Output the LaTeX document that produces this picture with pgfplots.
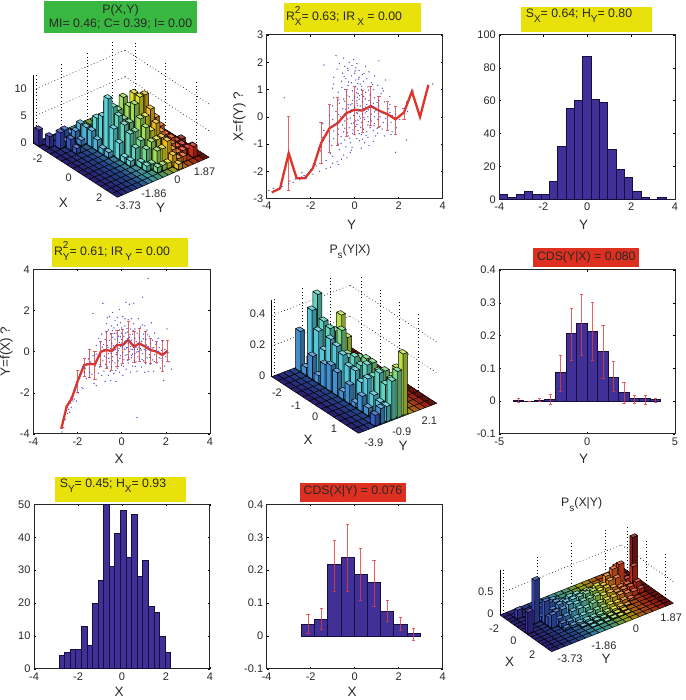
\documentclass[border=0pt]{standalone}
\usepackage{fontspec}
\setmainfont{Liberation Sans}
\usepackage{pgfplots}
\usepackage{pgfplotstable}
\pgfplotsset{compat=1.18}

\definecolor{barfill}{RGB}{64,48,152}
\definecolor{baredge}{RGB}{22,14,60}
\definecolor{redline}{RGB}{222,52,40}
\definecolor{errred}{RGB}{226,60,60}
\definecolor{dotblue}{RGB}{80,80,205}
\definecolor{ttlyel}{RGB}{232,226,10}
\definecolor{ttlgrn}{RGB}{56,184,64}
\definecolor{ttlred}{RGB}{222,48,32}
\definecolor{txt}{RGB}{40,40,40}

\newcommand\tfont{\fontsize{12.3}{14}\selectfont}
\newcommand\lfont{\fontsize{13.5}{15}\selectfont}
\newcommand\nfont{\fontsize{11}{12}\selectfont}
\newcommand\subf{\fontsize{10}{10}\selectfont}
\newcommand\subx[1]{\raisebox{-.4em}{\subf #1}}
\newcommand\supsub[2]{\rlap{\raisebox{.5em}{\subf #1}}\raisebox{-.4em}{\subf #2}}

\pgfplotsset{
  colormap={barjet}{
    rgb255(0cm)=(99,87,179); rgb255(24.75cm)=(93,131,207); rgb255(39.6cm)=(123,219,227);
    rgb255(49.5cm)=(131,219,187); rgb255(57.42cm)=(171,227,131); rgb255(65.34cm)=(239,231,75);
    rgb255(79.2cm)=(243,139,75); rgb255(91.08cm)=(231,91,75); rgb255(99cm)=(163,71,67);
    rgb255(100cm)=(60,45,160); rgb255(124.75cm)=(52,100,195); rgb255(139.6cm)=(90,210,220);
    rgb255(149.5cm)=(100,210,170); rgb255(157.42cm)=(150,220,100); rgb255(165.34cm)=(235,225,30);
    rgb255(179.2cm)=(240,110,30); rgb255(191.08cm)=(225,50,30); rgb255(199cm)=(140,25,20);
    rgb255(200cm)=(42,32,112); rgb255(224.75cm)=(36,70,137); rgb255(239.6cm)=(63,147,154);
    rgb255(249.5cm)=(70,147,119); rgb255(257.42cm)=(105,154,70); rgb255(265.34cm)=(165,158,21);
    rgb255(279.2cm)=(168,77,21); rgb255(291.08cm)=(158,35,21); rgb255(299cm)=(98,18,14)
  },
  flat2d/.style={
    scale only axis, axis line style={line width=1pt,draw=black!85},
    tick align=inside, major tick length=2pt, tick style={black,line width=.5pt},
    ticklabel style={font=\nfont,text=txt},
    /pgf/number format/assume math mode=true,
    /pgf/number format/fixed,
    clip=true, anchor=north west,
  },
  hist/.style={ybar interval=1, fill=barfill, draw=baredge, line width=1pt},
  errs/.style={draw=none, forget plot,
    error bars/.cd, y dir=both, y explicit,
    error bar style={errred, line width=.9pt, opacity=.8},
    error mark options={rotate=90, errred, mark size=1.6pt, line width=.8pt}},
  box3d/.style={
    anchor=origin, clip=false, grid=major,
    grid style={black, line width=.6pt, dash pattern=on .7pt off 2.6pt},
    axis line style={draw=none},
    major tick length=0pt,
    ticklabel style={font=\nfont,text=txt},
    zticklabel style={xshift=-3pt},
    /pgf/number format/assume math mode=true,
    /pgf/number format/fixed,
    colormap name=barjet, point meta min=0, point meta max=299,
  },
  bar3d/.style={patch, patch type=rectangle, shader=faceted, faceted color=black,
    line width=.45pt, z buffer=none, point meta=explicit},
}

% #1 xmin, #2 cell in x, #3 ymin, #4 cell in y, #5 number of columns, #6 heights by row
\newcommand\buildbars[6]{%
  \gdef\barstr{}%
  \pgfmathtruncatemacro\lastc{#5-1}%
  \pgfmathtruncatemacro\nextc{#5-2}%
  \foreach \row [count=\r from 0] in {#6} {%
    \pgfmathsetmacro\xa{#1+#2*(\r+.12)}\pgfmathsetmacro\xb{#1+#2*(\r+.88)}%
    \pgfmathsetmacro\xA{#1+#2*\r}\pgfmathsetmacro\xB{#1+#2*(\r+1)}%
    \foreach \c in {\lastc,\nextc,...,0} {%
      \pgfmathsetmacro\h{{\row}[\c]}%
      \pgfmathsetmacro\ya{#3+#4*(\c+.12)}\pgfmathsetmacro\yb{#3+#4*(\c+.88)}%
      \pgfmathsetmacro\yA{#3+#4*\c}\pgfmathsetmacro\yB{#3+#4*(\c+1)}%
      \pgfmathsetmacro\mt{99*\c/\lastc}%
      \pgfmathsetmacro\ma{100+\mt}\pgfmathsetmacro\mb{200+\mt}%
      \xdef\barstr{\barstr (\xA,\yA,0)[\mb](\xB,\yA,0)[\mb](\xB,\yB,0)[\mb](\xA,\yB,0)[\mb] }%
      \pgfmathparse{\h>0?1:0}%
      \ifdim\pgfmathresult pt>0.5pt
        \xdef\barstr{\barstr (\xa,\ya,0)[\ma](\xb,\ya,0)[\ma](\xb,\ya,\h)[\ma](\xa,\ya,\h)[\ma]
          (\xb,\ya,0)[\mb](\xb,\yb,0)[\mb](\xb,\yb,\h)[\mb](\xb,\ya,\h)[\mb]
          (\xa,\ya,\h)[\mt](\xb,\ya,\h)[\mt](\xb,\yb,\h)[\mt](\xa,\yb,\h)[\mt] }%
      \fi
    }%
  }%
}
\newcommand\plotbarsfrom[1]{\addplot3[bar3d] coordinates {#1};}
\newcommand\plotbars{\expandafter\plotbarsfrom\expandafter{\barstr}}

\pgfplotstableread[row sep=\\]{
X Y\\
-2.7 -3.9\\ -2.62 -3.7\\ -2.55 -3.3\\ -2.45 -3.0\\ -2.4 -2.8\\ -2.35 -2.95\\ -2.3 -2.5\\ -2.28 -2.7\\
-2.25 -2.2\\ -2.2 -2.4\\ -2.15 -2.3\\ -2.1 -1.9\\ -2.05 -2.4\\ -2.0 -1.6\\ -1.95 -2.0\\ -1.9 -1.3\\
-1.85 -1.1\\ -1.8 -1.75\\ -1.75 -1.8\\ -1.7 -1.0\\ -1.65 -0.8\\ -1.75 -0.75\\ -1.6 -1.3\\ -1.55 -0.6\\
-1.5 -0.35\\ -1.45 -1.0\\ -1.4 -0.5\\ -1.35 -1.1\\ -1.3 1.85\\ -1.3 -0.2\\ -1.25 -1.55\\ -1.2 -0.7\\
-1.15 -1.65\\ -1.15 0.3\\ -1.1 -0.4\\ -1.05 -1.05\\ -1.05 0.65\\ -1.0 -0.75\\ -0.95 -0.2\\ -0.95 0.45\\
-0.9 -1.15\\ -0.9 0.85\\ -0.85 2.35\\ -0.85 -0.45\\ -0.8 -0.95\\ -0.8 0.1\\ -0.75 -1.45\\ -0.75 0.6\\
-0.7 0.95\\ -0.7 -0.3\\ -0.7 1.35\\ -0.65 -0.75\\ -0.65 0.3\\ -0.65 1.65\\ -0.6 -0.1\\ -0.6 1.05\\
-0.6 -1.15\\ -0.55 0.55\\ -0.55 1.7\\ -0.55 -0.5\\ -0.5 0.15\\ -0.5 0.85\\ -0.5 -1.4\\ -0.45 -0.75\\
-0.45 1.25\\ -0.45 0.4\\ -0.4 -0.25\\ -0.4 1.9\\ -0.4 0.7\\ -0.35 -1.05\\ -0.35 0.05\\ -0.35 1.15\\
-0.3 -0.55\\ -0.3 0.6\\ -0.3 1.5\\ -0.25 -1.45\\ -0.25 -0.15\\ -0.25 0.9\\ -0.2 0.3\\ -0.2 -0.8\\
-0.2 1.3\\ -0.2 1.65\\ -0.15 0.05\\ -0.15 0.75\\ -0.15 -0.45\\ -0.1 1.05\\ -0.1 0.45\\ -0.1 -1.0\\
-0.1 2.05\\ -0.05 -0.2\\ -0.05 0.25\\ -0.05 1.4\\ 0 0.6\\ 0 -0.65\\ 0 1.15\\ 0 0.9\\
0.05 -0.05\\ 0.05 1.7\\ 0.05 -1.15\\ 0.1 0.35\\ 0.1 0.75\\ 0.1 -0.4\\ 0.15 1.25\\ 0.15 0.1\\
0.15 1.6\\ 0.2 2.4\\ 0.2 -0.85\\ 0.2 0.55\\ 0.25 0.2\\ 0.25 0.95\\ 0.25 -0.15\\ 0.3 1.55\\
0.3 0.4\\ 0.3 -0.55\\ 0.35 2.3\\ 0.35 0.7\\ 0.35 0.0\\ 0.4 1.1\\ 0.4 -1.0\\ 0.4 0.25\\
0.45 0.55\\ 0.45 1.6\\ 0.45 -0.3\\ 0.5 0.1\\ 0.5 0.85\\ 0.5 -0.7\\ 0.55 2.35\\ 0.55 0.35\\
0.55 1.35\\ 0.6 -0.1\\ 0.6 0.65\\ 0.6 1.1\\ 0.65 -0.5\\ 0.65 0.2\\ 0.7 -3.2\\ 0.7 0.9\\
0.7 -0.95\\ 0.75 1.6\\ 0.75 0.4\\ 0.75 0.0\\ 0.8 0.7\\ 0.8 -0.35\\ 0.85 1.2\\ 0.85 0.15\\
0.9 -0.75\\ 0.9 0.5\\ 0.95 2.65\\ 0.95 1.3\\ 0.95 -0.1\\ 1.0 0.85\\ 1.0 0.3\\ 1.0 -0.45\\
1.05 1.25\\ 1.05 -1.0\\ 1.1 0.05\\ 1.1 0.6\\ 1.15 1.05\\ 1.15 -0.3\\ 1.2 3.55\\ 1.2 0.25\\
1.2 -0.95\\ 1.25 0.75\\ 1.25 -0.15\\ 1.3 0.4\\ 1.3 -0.6\\ 1.35 1.4\\ 1.35 0.05\\ 1.4 0.55\\
1.4 -0.4\\ 1.45 -0.95\\ 1.45 0.2\\ 1.5 0.9\\ 1.5 -0.15\\ 1.55 0.35\\ 1.6 -0.55\\ 1.6 0.0\\
1.65 0.65\\ 1.7 -0.3\\ 1.7 0.2\\ 1.75 -0.8\\ 1.8 0.05\\ 1.85 -0.45\\ 1.85 0.5\\ 1.9 -1.4\\
1.95 0.1\\ 1.95 -0.7\\ 2.0 -0.25\\ 2.05 1.1\\ 2.1 -0.05\\ 2.15 -0.5\\ 2.25 -0.85\\ -0.28 0.1\\
0.12 0.12\\ 0.22 0.18\\ 0.42 0.12\\ 0.58 0.1\\ 0.72 0.12\\ 0.88 0.08\\ -0.12 0.15\\ 1.02 0.12\\
1.22 0.14\\ 0.32 -0.28\\ -0.42 -0.45\\ -0.62 0.2\\ -0.02 0.42\\ 0.18 0.9\\ 0.62 -0.72\\ -0.82 0.35\\
-1.12 -0.12\\ -0.98 -0.62\\ -0.88 0.22\\ -0.78 -0.22\\ -0.68 0.52\\ -0.58 -0.32\\ -0.48 -0.08\\ -0.38 0.28\\
-0.33 0.88\\ -0.27 -0.92\\ -0.18 0.62\\ -0.08 -0.32\\ 0.02 0.22\\ 0.08 -0.72\\ 0.14 0.48\\ 0.24 1.12\\
0.28 -0.42\\ 0.38 0.82\\ 0.44 -0.18\\ 0.52 1.02\\ 0.57 -0.45\\ 0.66 0.48\\ 0.74 -0.25\\ 0.82 0.32\\
0.92 -0.38\\ 0.98 0.62\\ 1.08 -0.58\\ 1.12 0.32\\ 1.18 0.82\\ 1.28 -0.28\\ 1.38 0.18\\ 1.48 -0.48\\
1.58 0.42\\ 1.68 0.02\\ 1.78 -0.32\\ 1.88 -0.12\\ -0.52 -0.95\\ -0.72 -0.62\\ -1.22 -0.15\\ -0.42 1.02\\
0.48 -0.12\\ 0.68 -0.02\\ 0.26 0.62\\ -0.06 0.72\\ -0.22 -0.05\\ 0.16 -0.18\\ 0.36 0.48\\ 0.78 0.22\\
}\pts
\pgfplotstableread[row sep=\\]{
x y\\ -3.77 -2.77\\ -3.39 -2.62\\ -3.0 -1.33\\ -2.64 -2.25\\ -2.26 -2.25\\ -1.9 -1.88\\ -1.53 -0.97\\
-1.15 -0.42\\ -0.77 -0.23\\ -0.39 0.13\\ -0.02 0.26\\ 0.35 0.23\\ 0.73 0.40\\ 1.1 0.23\\ 1.48 0.10\\
1.86 -0.09\\ 2.24 0.16\\ 2.6 0.93\\ 2.97 0.0\\ 3.35 1.17\\
}\lineB
\pgfplotstableread[row sep=\\]{
x y lo hi\\ -3.0 -1.33 -2.71 0.0\\ -1.53 -0.97 -1.7 -0.2\\ -1.15 -0.42 -1.3 0.44\\ -0.77 -0.23 -1.05 0.71\\
-0.39 0.13 -0.72 0.99\\ -0.02 0.26 -0.64 1.11\\ 0.35 0.23 -0.56 0.97\\ 0.73 0.40 -0.32 1.12\\ 1.1 0.23 -0.38 0.75\\
1.48 0.10 -0.48 0.56\\ 1.86 -0.09 -0.66 0.38\\ 2.24 0.16 -0.09 0.32\\
}\errB
\pgfplotstableread[row sep=\\]{
x y lo hi\\ -2.72 -3.69 -3.72 -3.66\\ -2.49 -2.67 -2.7 -2.64\\ -2.26 -2.27 -2.3 -2.24\\ -2.0 -1.46 -2.0 -0.9\\
-1.7 -0.65 -1.2 -0.32\\ -1.46 -0.6 -1.26 0.11\\ -1.21 -0.62 -1.34 0.03\\ -0.94 0.0 -0.73 0.49\\ -0.69 0.08 -0.81 0.97\\
-0.45 0.03 -0.89 0.89\\ -0.21 0.32 -0.73 1.05\\ 0.05 0.32 -0.57 1.08\\ 0.3 0.57 -0.4 1.46\\ 0.56 0.24 -0.53 1.0\\
0.8 0.4 -0.49 1.13\\ 1.07 0.24 -0.53 1.0\\ 1.31 0.08 -0.57 0.65\\ 1.58 0.0 -0.52 0.49\\ 1.84 -0.16 -0.94 0.57\\
2.08 0.03 -0.49 0.57\\
}\errD
\pgfplotstableread[row sep=\\]{
x y\\ -4 3\\ -3.62 1\\ -3.24 3\\ -2.86 5\\ -2.48 3\\ -2.1 3\\ -1.72 11\\ -1.34 32\\ -0.96 55\\ -0.58 60\\ -0.2 87\\
0.18 61\\ 0.56 59\\ 0.94 30\\ 1.32 18\\ 1.7 13\\ 2.08 5\\ 2.46 1\\ 2.84 0\\ 3.22 1\\ 3.6 1\\
}\histY
\pgfplotstableread[row sep=\\]{
x y\\ -2.86 4\\ -2.606 5\\ -2.352 6\\ -2.098 6\\ -1.844 13\\ -1.59 7\\ -1.336 20\\ -1.082 27\\ -0.828 50\\ -0.574 31\\
-0.32 41\\ -0.066 48\\ 0.188 34\\ 0.442 47\\ 0.696 28\\ 0.95 33\\ 1.204 19\\ 1.458 17\\ 1.712 10\\ 1.966 5\\ 2.22 5\\
}\histX
\pgfplotstableread[row sep=\\]{
x y\\ -4.2 0.003\\ -3.6 0\\ -3.0 0.003\\ -2.4 0.006\\ -1.8 0.087\\ -1.2 0.205\\ -0.6 0.236\\ 0 0.213\\ 0.6 0.153\\
1.2 0.073\\ 1.8 0.026\\ 2.4 0.008\\ 3.0 0.008\\ 3.6 0.004\\ 4.2 0.004\\
}\cdsY
\pgfplotstableread[row sep=\\]{
x y lo hi\\ -3.9 0.003 -0.003 0.01\\ -3.3 0 0 0\\ -2.7 0.003 -0.002 0.01\\ -2.1 0.006 -0.01 0.02\\ -1.5 0.087 0.03 0.14\\
-0.9 0.205 0.123 0.283\\ -0.3 0.236 0.14 0.327\\ 0.3 0.213 0.123 0.301\\ 0.9 0.153 0.07 0.231\\ 1.5 0.073 0.03 0.12\\
2.1 0.026 -0.006 0.058\\ 2.7 0.008 -0.006 0.017\\ 3.3 0.008 -0.009 0.019\\ 3.9 0.004 -0.004 0.01\\
}\cdsYe
\pgfplotstableread[row sep=\\]{
x y\\ -2.42 0.036\\ -1.82 0.051\\ -1.22 0.216\\ -0.62 0.237\\ -0.02 0.187\\ 0.58 0.162\\ 1.18 0.076\\ 1.78 0.036\\
2.38 0.008\\ 2.98 0.008\\
}\cdsX
\pgfplotstableread[row sep=\\]{
x y lo hi\\ -2.12 0.036 0.007 0.067\\ -1.52 0.051 0.021 0.084\\ -0.92 0.216 0.137 0.291\\ -0.32 0.237 0.137 0.339\\
0.28 0.187 0.108 0.266\\ 0.88 0.162 0.09 0.231\\ 1.48 0.076 0.044 0.108\\ 2.08 0.036 0.017 0.058\\ 2.68 0.008 -0.013 0.023\\
}\cdsXe

\begin{document}
\begin{tikzpicture}[x=1pt,y=1pt]
\useasboundingbox (0,0) rectangle (685,700);

% ---------- panel 1
\begin{axis}[box3d, at={(127.6pt,553.9pt)},
  x={(15.3pt,-9.84pt)}, y={(13.67pt,5.96pt)}, z={(0pt,5.33pt)},
  xmin=-2.66, xmax=2.83, ymin=-3.92, ymax=2.79, zmin=0, zmax=12.8,
  yticklabel style={xshift=2pt,yshift=2.5pt},
  xtick={-2,0,2}, ytick={-3.73,-1.86,0,1.87}, yticklabels={-3.73,-1.86,0,1.87}, ztick={0,5,10}]
\buildbars{-2.66}{0.366}{-3.92}{0.373}{18}{
{3,0,0,0,0,0,0,0,0,0,0,0,0,0,0,0,0,0},
{0,2,0,1,2,1,0,0,0,0,0,0,0,0,0,0,0,0},
{0,0,3,1,1,2,3,1,1,1,0,0,0,0,0,0,0,0},
{0,0,0,2,0,1,3,2,3,1,1,2,0,0,0,0,0,0},
{0,0,0,1,0,0,3,5,4,4,3,3,2,1,0,0,0,0},
{0,0,0,0,0,0,2,6,8,6,6,5,5,2,1,0,0,0},
{0,0,0,0,0,0,1,10,8,7,9,6,6,4,2,1,0,0},
{0,0,0,0,0,0,1,5,7,6,8,10,7,5,3,1,0,0},
{0,0,0,0,0,0,0,3,6,6,9,10,10,3,4,2,1,0},
{0,0,0,0,0,0,0,1,5,5,7,7,8,6,4,2,1,0},
{0,0,0,0,0,0,0,1,3,4,6,5,6,4,2,2,1,1},
{0,0,0,0,0,0,0,0,1,3,4,4,4,3,2,1,1,0},
{0,0,0,0,0,0,0,0,1,1,3,3,4,2,1,1,1,1},
{0,0,0,0,0,0,0,0,0,1,1,1,2,1,1,0,2,0},
{0,0,0,0,0,0,0,0,0,0,0,0,1,0,0,0,0,0}}
\plotbars
\addplot3[black,line width=.6pt,forget plot] coordinates {(-2.66,-3.92,0) (-2.66,-3.92,12.8)};
\end{axis}

% ---------- panel 2
\begin{axis}[flat2d, at={(266.7pt,665pt)}, width=176pt, height=163.7pt,
  xmin=-4, xmax=4, ymin=-3, ymax=3, xtick={-4,-2,0,2,4}, ytick={-3,-2,-1,0,1,2,3}]
\addplot[only marks, mark=*, mark size=.4pt, dotblue] table[x=Y,y=X] {\pts};
\addplot[redline, line width=2.3pt] table[x=x,y=y] {\lineB};
\addplot[errs] table[x=x,y=y,y error plus expr=\thisrow{hi}-\thisrow{y},y error minus expr=\thisrow{y}-\thisrow{lo}] {\errB};
\end{axis}

% ---------- panel 3
\begin{axis}[flat2d, at={(499.3pt,665pt)}, width=175.7pt, height=164.3pt,
  xmin=-4, xmax=4, ymin=0, ymax=100, xtick={-4,-2,0,2,4}, ytick={0,20,40,60,80,100}]
\addplot[hist] table[x=x,y=y] {\histY};
\end{axis}

% ---------- panel 4
\begin{axis}[flat2d, at={(33.3pt,430.7pt)}, width=176.7pt, height=164.7pt,
  xmin=-4, xmax=4, ymin=-4, ymax=4, xtick={-4,-2,0,2,4}, ytick={-4,-2,0,2,4}]
\addplot[only marks, mark=*, mark size=.4pt, dotblue] table[x=X,y=Y] {\pts};
\addplot[redline, line width=2.3pt] table[x=x,y=y] {\errD};
\addplot[errs] table[x=x,y=y,y error plus expr=\thisrow{hi}-\thisrow{y},y error minus expr=\thisrow{y}-\thisrow{lo}] {\errD};
\end{axis}

% ---------- panel 5
\begin{axis}[box3d, at={(359.9pt,306.3pt)},
  x={(18.83pt,-12.3pt)}, y={(9.33pt,3.57pt)}, z={(0pt,153.3pt)},
  xmin=-2.6, xmax=2.0, ymin=-4.2, ymax=4.2, zmin=0, zmax=0.5,
  yticklabel style={xshift=7pt},
  xtick={-2,-1,0,1}, ytick={-3.9,-0.9,2.1}, yticklabels={-3.9,-0.9,2.1}, ztick={0,0.2,0.4}]
\buildbars{-2.6}{0.3286}{-4.2}{0.6}{14}{
{0,0,0,0,0.26,0,0.05,0,0,0,0,0,0,0},
{0,0,0,0,0.05,0.41,0.5,0.1,0,0,0,0,0,0},
{0,0,0,0,0.15,0.3,0.35,0.1,0.05,0,0,0,0,0},
{0,0,0,0,0.05,0.2,0.33,0.3,0.39,0.03,0,0,0,0},
{0,0,0,0,0.15,0.3,0.2,0.33,0.27,0.02,0,0,0,0},
{0,0,0,0,0.17,0.28,0.18,0.2,0.15,0,0,0,0,0},
{0,0,0,0,0.15,0.25,0.22,0.2,0.12,0,0,0,0,0},
{0,0,0,0,0.05,0.2,0.25,0.23,0.18,0.05,0,0,0,0},
{0,0,0,0,0.12,0.2,0.22,0.25,0.18,0.02,0,0,0,0},
{0,0,0,0,0.03,0.15,0.25,0.25,0.15,0.02,0,0,0,0},
{0,0,0,0,0.1,0.2,0.2,0.22,0.12,0.03,0,0,0,0},
{0,0,0,0,0.05,0.12,0.25,0.25,0.2,0.02,0,0,0,0},
{0,0,0,0,0.03,0.1,0.2,0.22,0.28,0.03,0,0,0,0},
{0,0,0,0.07,0.1,0.1,0.25,0.3,0.4,0,0,0,0,0}}
\plotbars
\addplot3[black,line width=.6pt,forget plot] coordinates {(-2.6,-4.2,0) (-2.6,-4.2,0.5)};
\end{axis}

% ---------- panel 6
\begin{axis}[flat2d, at={(499.3pt,430pt)}, width=175.7pt, height=164pt,
  xmin=-5, xmax=5, ymin=-0.1, ymax=0.4, xtick={-5,0,5}, ytick={-0.1,0,0.1,0.2,0.3,0.4}]
\addplot[hist] table[x=x,y=y] {\cdsY};
\addplot[errs] table[x=x,y=y,y error plus expr=\thisrow{hi}-\thisrow{y},y error minus expr=\thisrow{y}-\thisrow{lo}] {\cdsYe};
\end{axis}

% ---------- panel 7
\begin{axis}[flat2d, at={(34pt,195.7pt)}, width=176pt, height=164.7pt,
  xmin=-4, xmax=4, ymin=0, ymax=50, xtick={-4,-2,0,2,4}, ytick={0,10,20,30,40,50}]
\addplot[hist] table[x=x,y=y] {\histX};
\end{axis}

% ---------- panel 8
\begin{axis}[flat2d, at={(266.7pt,195.7pt)}, width=176pt, height=164.7pt,
  xmin=-4, xmax=4, ymin=-0.1, ymax=0.4, xtick={-4,-2,0,2,4}, ytick={-0.1,0,0.1,0.2,0.3,0.4}]
\addplot[hist] table[x=x,y=y] {\cdsX};
\addplot[errs] table[x=x,y=y,y error plus expr=\thisrow{hi}-\thisrow{y},y error minus expr=\thisrow{y}-\thisrow{lo}] {\cdsXe};
\end{axis}

% ---------- panel 9
\begin{axis}[box3d, at={(596pt,95.5pt)},
  x={(9.42pt,-6.68pt)}, y={(18.12pt,7.21pt)}, z={(0pt,43.3pt)},
  xmin=-2.66, xmax=2.83, ymin=-3.92, ymax=2.79, zmin=0, zmax=1.05,
  xticklabel style={xshift=-6pt},
  yticklabel style={xshift=9pt,yshift=3pt},
  xtick={-2,0,2}, ytick={-3.73,-1.86,0,1.87}, yticklabels={-3.73,-1.86,0,1.87}, ztick={0,0.5}]
\buildbars{-2.66}{0.366}{-3.92}{0.373}{18}{
{0,0,0,0,0,0,0,0,0,0,0,0,0,0,0,0,0,0},
{0,0,0,0,0,0,0,0,0,0,0,0,0,0,0,0,0,0},
{0,0.2,0,0,0,0,0,0,0,0,0,0,0,0,0,0,0,0},
{0,0,0,0.15,0.1,0,0,0,0.05,0.05,0.05,0.08,0.1,0.12,0.15,0.4,0.1,0},
{0,0,0,0.25,0.3,0.3,0.2,0.15,0.2,0.15,0.2,0.15,0.2,0.35,0.45,0.5,0.1,1},
{0,0,1,0.1,0.35,0.3,0.25,0.3,0.3,0.25,0.25,0.3,0.25,0.3,0.3,0.1,0,0},
{0,0,0,0.5,0.25,0.3,0.3,0.3,0.3,0.3,0.3,0.25,0.25,0.2,0.15,0.15,0.5,0},
{0.5,0,0,0.2,0.25,0.25,0.3,0.25,0.25,0.25,0.25,0.2,0.2,0.15,0.15,0.15,0.2,0},
{0,0,0,0.3,0.15,0.15,0.2,0.2,0.15,0.2,0.15,0.15,0.15,0.15,0.12,0.1,0.1,0},
{0,0,0,0,0.1,0.08,0.1,0.1,0.1,0.1,0.1,0.1,0.08,0.08,0.05,0,0,0},
{0,0,0,0,0.05,0.05,0.05,0.05,0.05,0.05,0.05,0.05,0.05,0.02,0,0,0,0},
{0,0,0,0,0,0,0.02,0.02,0.03,0.03,0.02,0.02,0.02,0,0,0,0,0},
{0,0,0,0,0,0,0,0.01,0.01,0.01,0.02,0.01,0.01,0,0,0,0,0},
{0,0,0,0,0,0,0,0,0,0,0,0,0,0,0,0,0,0},
{0,0,0,0,0,0,0,0,0,0,0,0,0,0,0,0,0,0}}
\plotbars
\addplot3[black,line width=.6pt,forget plot] coordinates {(-2.66,-3.92,0) (-2.66,-3.92,1.05)};
\end{axis}

% ---------- titles and labels, in pixels from the top left
\begin{scope}[y=-1pt,shift={(0pt,700pt)},every node/.style={inner sep=0pt,text=txt}]
\fill[ttlgrn] (44.3,0.7) rectangle (196.7,33);
\node[align=center,font=\tfont] at (120.5,17) {P(X,Y)\\MI= 0.46; C= 0.39; I= 0.00};
\fill[ttlyel] (284.3,3.3) rectangle (421,31.7);
\node[font=\tfont] at (344,16) {R\supsub{2}{X}= 0.63; IR\,\subx{X} = 0.00};
\fill[ttlyel] (520.7,7) rectangle (651.7,32);
\node[font=\tfont] at (579,16) {S\subx{X}= 0.64; H\subx{Y}= 0.80};
\fill[ttlyel] (51.7,238.3) rectangle (188,266.7);
\node[font=\tfont] at (112,251) {R\supsub{2}{Y}= 0.61; IR\,\subx{Y} = 0.00};
\node[font=\tfont] at (350,251.5) {P\subx{s}(Y|X)};
\fill[ttlred] (533.3,248.3) rectangle (639.3,266.7);
\node[font=\tfont] at (586.3,257) {CDS(Y|X) = 0.080};
\fill[ttlyel] (55,476.7) rectangle (185.7,501.7);
\node[font=\tfont] at (113,486) {S\subx{Y}= 0.45; H\subx{X}= 0.93};
\fill[ttlred] (300,482.7) rectangle (406,501.7);
\node[font=\tfont] at (353,491) {CDS(X|Y) = 0.076};
\node[font=\tfont] at (581.7,504.5) {P\subx{s}(X|Y)};

\node[font=\lfont] at (351.7,224.5) {Y};
\node[font=\lfont] at (583.5,224.5) {Y};
\node[font=\lfont] at (119,459) {X};
\node[font=\lfont] at (583.5,459) {Y};
\node[font=\lfont] at (119,691.5) {X};
\node[font=\lfont] at (352,691.5) {X};
\node[font=\lfont,rotate=90] at (239.3,116.7) {X=f(Y) ?};
\node[font=\lfont,rotate=90] at (6.5,351.7) {Y=f(X) ?};
\node[font=\lfont] at (63.5,203) {X};
\node[font=\lfont] at (160.5,208) {Y};
\node[font=\lfont] at (308,439.5) {X};
\node[font=\lfont] at (403,445.5) {Y};
\node[font=\lfont] at (509.5,661.5) {X};
\node[font=\lfont] at (606,659) {Y};
\end{scope}
\end{tikzpicture}
\end{document}
